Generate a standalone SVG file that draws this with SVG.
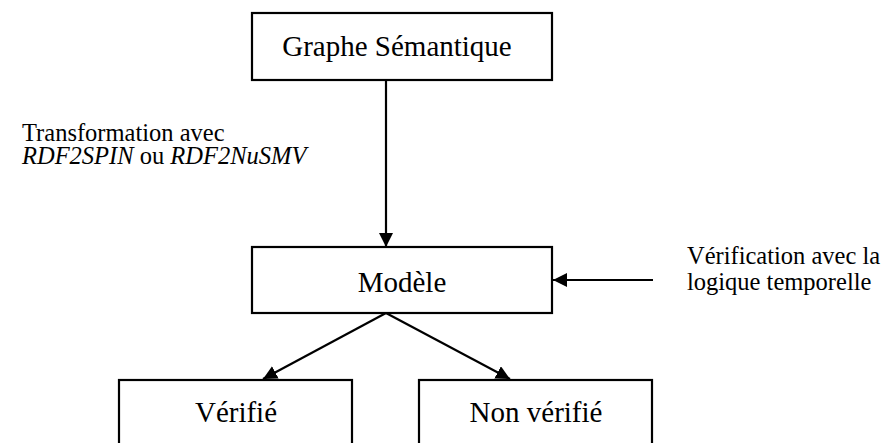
<svg xmlns="http://www.w3.org/2000/svg" width="887" height="443" viewBox="0 0 887 443">
<style>
.box{fill:#fff;stroke:#000;stroke-width:2.2}
.t{font-size:29px;fill:#000;text-anchor:middle}
.l{font-size:24.5px;fill:#000}
.c{stroke:#000;stroke-width:2.2;fill:none;marker-end:url(#ah)}
</style>
<defs>
<marker id="ah" viewBox="0 0 14 14" refX="14" refY="7" markerWidth="14" markerHeight="14" markerUnits="userSpaceOnUse" orient="auto">
<path d="M0,0 L14,7 L0,14 Z" fill="#000"/>
</marker>
</defs>
<rect width="887" height="443" fill="#fff"/>
<g id="connectors">
<line class="c" x1="386" y1="80" x2="386" y2="247"/>
<line class="c" x1="653" y1="280" x2="553" y2="280"/>
<line class="c" x1="386" y1="313" x2="263" y2="379"/>
<line class="c" x1="386" y1="313" x2="510" y2="379"/>
</g>
<g font-family="Liberation Serif, Times New Roman, serif">
<g id="graphe">
<rect class="box" x="252" y="13" width="300" height="67"/>
<text class="t" x="397" y="56">Graphe Sémantique</text>
</g>
<g id="modele">
<rect class="box" x="252" y="247" width="300" height="66"/>
<text class="t" x="402" y="292">Modèle</text>
</g>
<g id="verifie">
<rect class="box" x="119" y="380" width="233" height="80"/>
<text class="t" x="236" y="422">Vérifié</text>
</g>
<g id="nonverifie">
<rect class="box" x="419" y="380" width="233" height="80"/>
<text class="t" x="536" y="422">Non vérifié</text>
</g>
<g id="label-transformation">
<text class="l" x="22" y="141">Transformation avec</text>
<text class="l" x="22" y="164"><tspan font-style="italic">RDF2SPIN</tspan> ou <tspan font-style="italic">RDF2NuSMV</tspan></text>
</g>
<g id="label-verification">
<text class="l" x="687" y="264">Vérification avec la</text>
<text class="l" x="687" y="290">logique temporelle</text>
</g>
</g>
</svg>
